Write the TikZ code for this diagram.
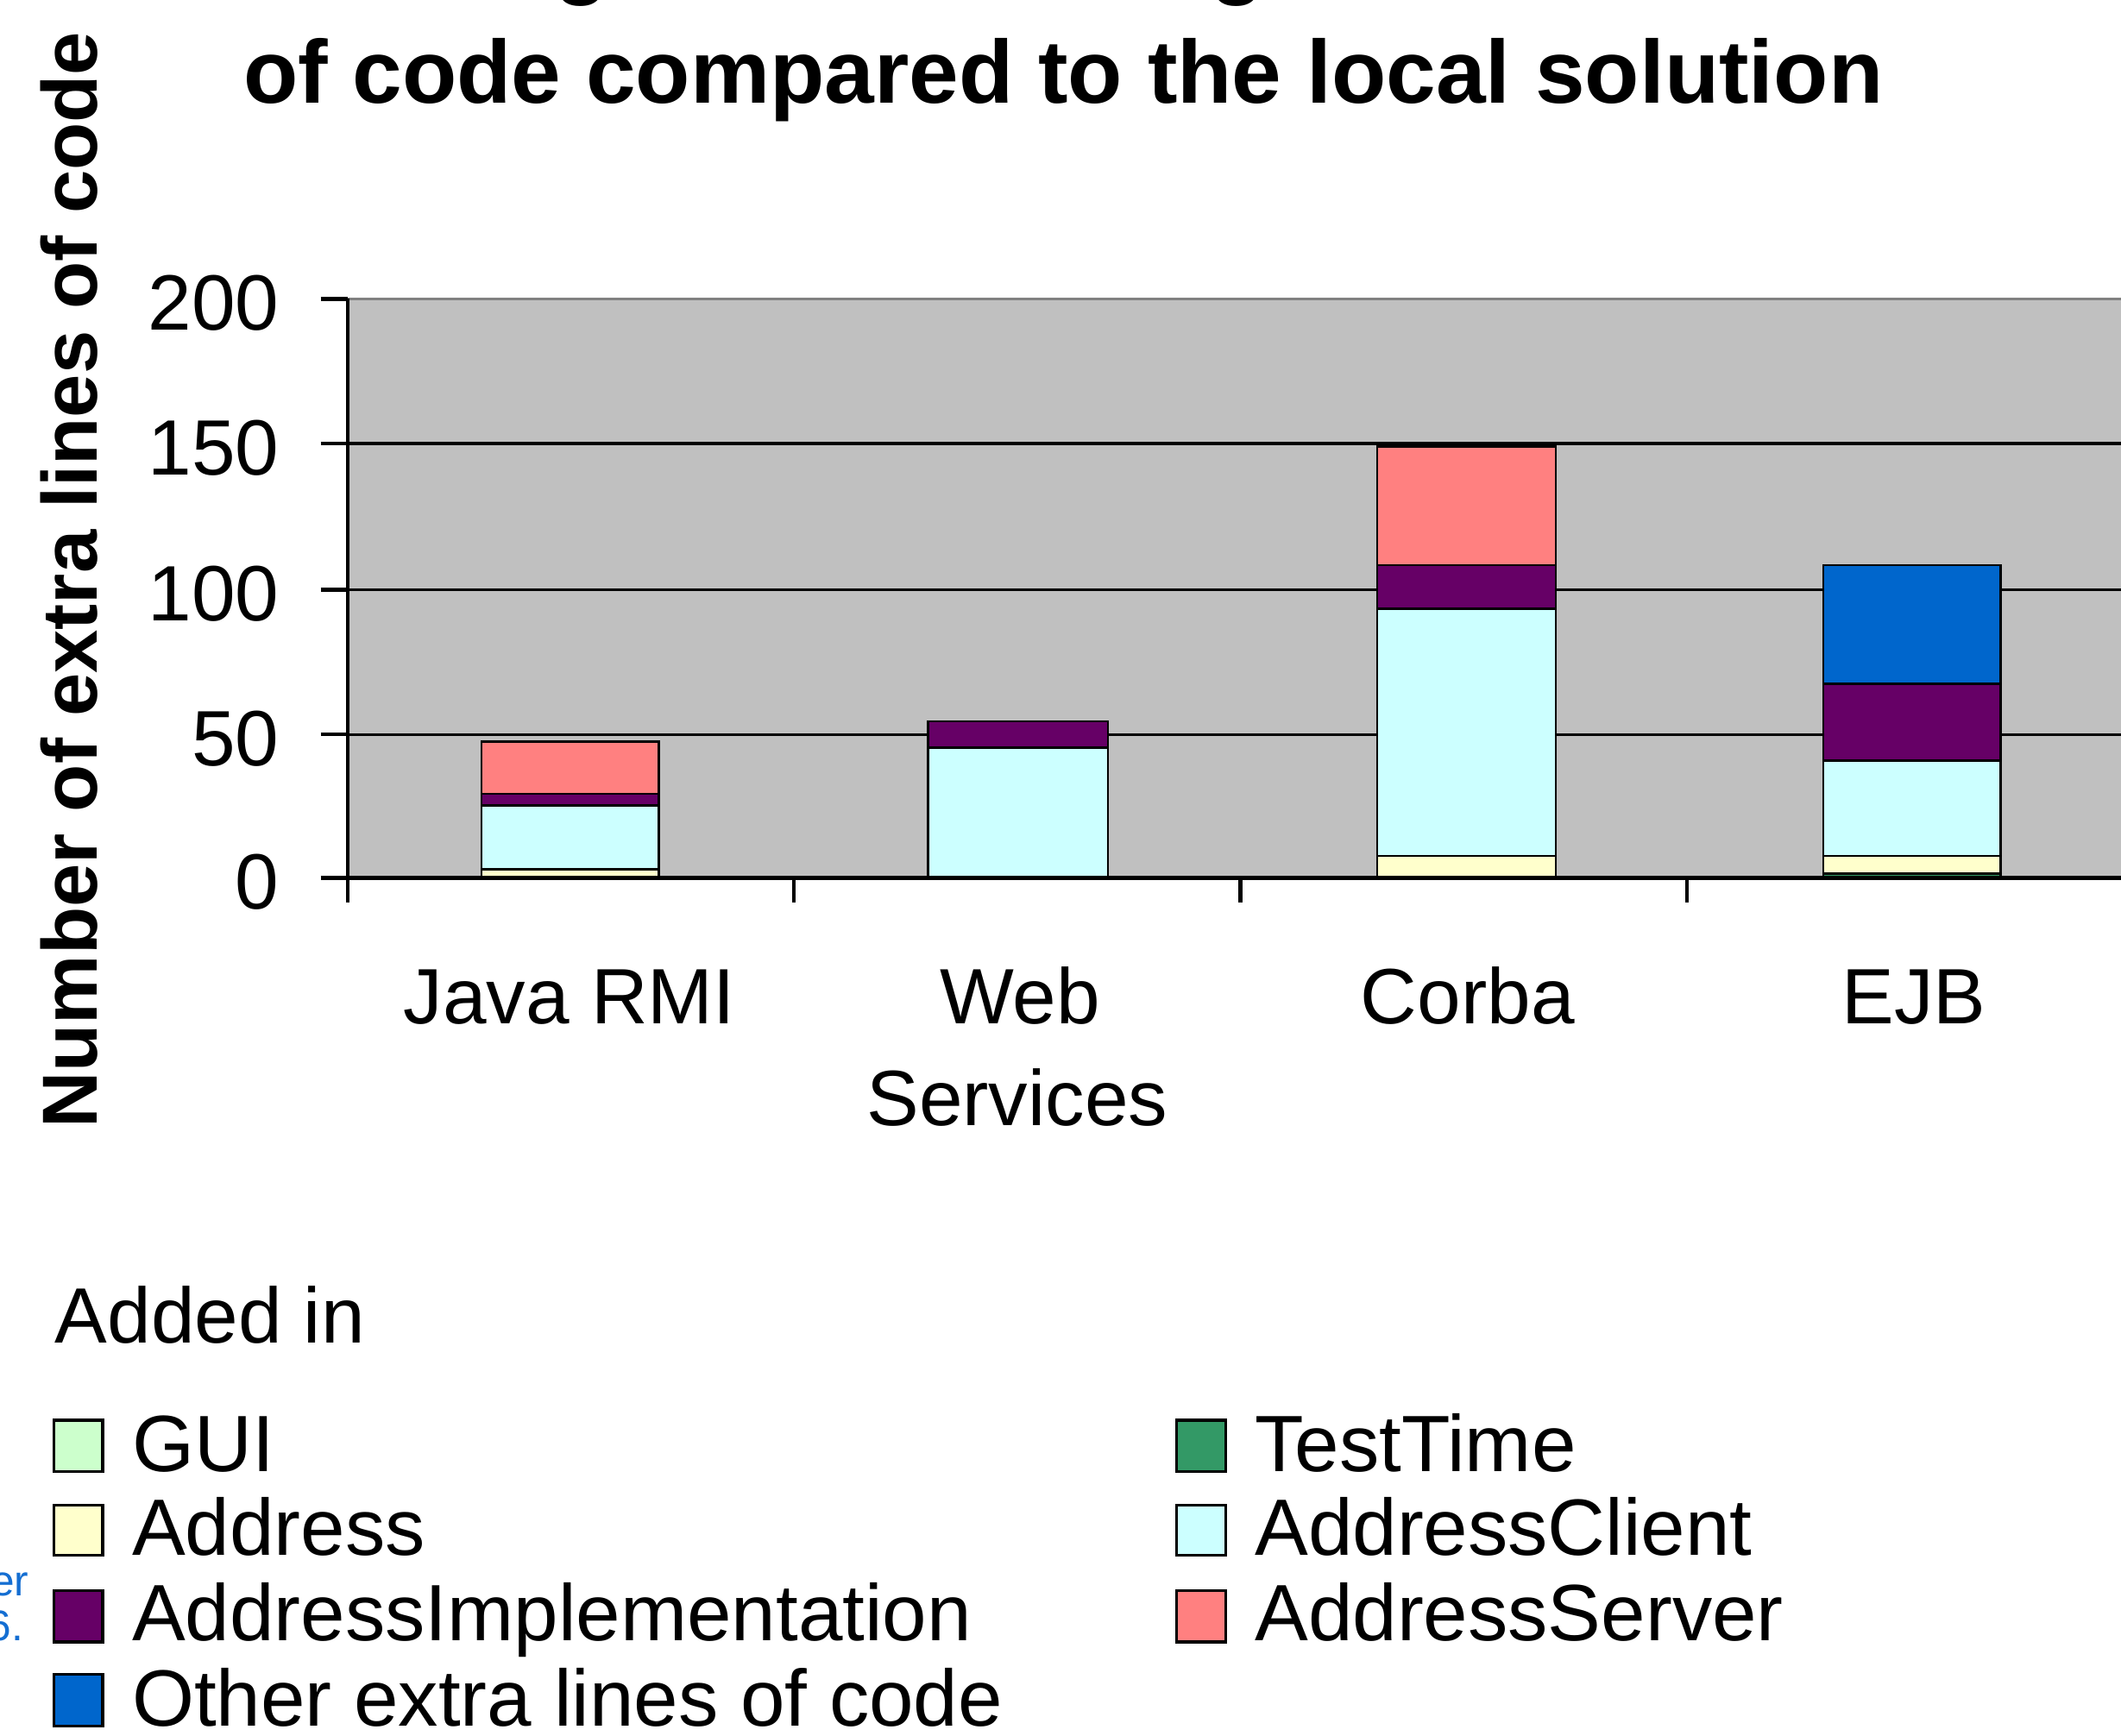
\documentclass[tikz,border=0pt]{standalone}
\usepackage{fontspec}
\setmainfont{Liberation Sans}
\usepackage{tikz}
\usetikzlibrary{positioning}

\definecolor{plotgray}{RGB}{192,192,192}
\definecolor{guigreen}{RGB}{204,255,204}
\definecolor{addryellow}{RGB}{255,255,204}
\definecolor{implpurple}{RGB}{102,0,102}
\definecolor{otherblue}{RGB}{0,102,204}
\definecolor{testgreen}{RGB}{51,153,102}
\definecolor{clientcyan}{RGB}{204,255,255}
\definecolor{serverred}{RGB}{255,128,128}
\definecolor{linkblue}{RGB}{20,110,210}

\newcommand{\labelfont}{\fontsize{16.5}{20}\selectfont}
\newcommand{\legendfont}{\fontsize{16.8}{20}\selectfont}
\newcommand{\titlefont}{\fontsize{18.8}{22}\selectfont\bfseries}

\begin{document}
\begin{tikzpicture}[x=0.01cm, y=-0.01cm,
	lab/.style={inner sep=0, anchor=base, font=\labelfont},
	leg/.style={inner sep=0, anchor=base west, font=\legendfont},
	seg/.style={draw=black, line width=0.45pt},
	swatch/.style={draw=black, line width=0.6pt},
	grid line/.style={line width=0.6pt}]
				\useasboundingbox (0,0) rectangle (1568,1283);
				\clip (0,0) rectangle (1568,1283);

				% title (first line is cut off above)
				\node[inner sep=0, anchor=base, font=\titlefont] (cut1) at (430,-9) {g};
				\node[inner sep=0, anchor=base, font=\titlefont] (cut2) at (915,-9) {g};
				\node[inner sep=0, anchor=base, font=\titlefont] (title) at (786,76) {of code compared to the local solution};

				% y axis label
				\node[inner sep=0, anchor=base west, rotate=90, font=\bfseries\fontsize{16.4}{20}\selectfont] (ylab) at (72,835) {Number of extra lines of code};

				% plot area
				\fill[plotgray] (257,221) rectangle (1580,649);
				\draw[gray, line width=0.4pt] (257,221) -- (1580,221);
				\draw[grid line] (257,328) -- (1580,328); % 150
				\draw[grid line] (257,436) -- (1580,436); % 100
				\draw[grid line] (257,543) -- (1580,543); % 50

				% stacked bars, in data units
				\begin{scope}[shift={(0,649)}, y=0.0214cm]
					% Java RMI
					\filldraw[seg, fill=addryellow] (356,0) rectangle (487,3);
					\filldraw[seg, fill=clientcyan] (356,3) rectangle (487,25);
					\filldraw[seg, fill=implpurple] (356,25) rectangle (487,29);
					\filldraw[seg, fill=serverred] (356,29) rectangle (487,47);
					% Web Services
					\filldraw[seg, fill=clientcyan] (686,0) rectangle (819,45);
					\filldraw[seg, fill=implpurple] (686,45) rectangle (819,54);
					% Corba
					\filldraw[seg, fill=addryellow] (1018,0) rectangle (1150,7.5);
					\filldraw[seg, fill=clientcyan] (1018,7.5) rectangle (1150,93);
					\filldraw[seg, fill=implpurple] (1018,93) rectangle (1150,108);
					\filldraw[seg, fill=serverred] (1018,108) rectangle (1150,149);
					% EJB
					\filldraw[seg, fill=testgreen] (1348,0) rectangle (1479,1.5);
					\filldraw[seg, fill=addryellow] (1348,1.5) rectangle (1479,7.5);
					\filldraw[seg, fill=clientcyan] (1348,7.5) rectangle (1479,40.5);
					\filldraw[seg, fill=implpurple] (1348,40.5) rectangle (1479,67);
					\filldraw[seg, fill=otherblue] (1348,67) rectangle (1479,108);
				\end{scope}

				% axes and ticks
				\draw[line width=0.8pt] (257,221) -- (257,667);
				\draw[line width=0.8pt] (257,649) -- (1580,649);
				\draw[line width=0.8pt] (237,221) -- (257,221);
				\draw[line width=0.8pt] (237,328) -- (257,328);
				\draw[line width=0.8pt] (237,436) -- (257,436);
				\draw[line width=0.8pt] (237,543) -- (257,543);
				\draw[line width=0.8pt] (237,649) -- (257,649);
				\draw[line width=0.8pt] (587,649) -- (587,667);
				\draw[line width=0.8pt] (917,649) -- (917,667);
				\draw[line width=0.8pt] (1247,649) -- (1247,667);

				% tick labels
				\node[lab, anchor=base east] (y200) at (207,244) {200};
				\node[lab, anchor=base east] (y150) at (207,351) {150};
				\node[lab, anchor=base east] (y100) at (207,459) {100};
				\node[lab, anchor=base east] (y50) at (207,566) {50};
				\node[lab, anchor=base east] (y0) at (207,672) {0};

				\node[lab] (rmi) at (421,757) {Java RMI};
				\node[lab] (web) at (754,757) {Web};
				\node[lab] (services) at (752,832) {Services};
				\node[lab] (corba) at (1085,757) {Corba};
				\node[lab] (ejb) at (1415,757) {EJB};

				% legend
				\node[lab, anchor=base west] (added) at (40,993) {Added in};

				\filldraw[swatch, fill=guigreen] (40,1050) rectangle (76,1088);
				\node[leg] (lgui) at (97,1088) {GUI};
				\filldraw[swatch, fill=addryellow] (40,1113) rectangle (76,1150);
				\node[leg] (laddr) at (97,1150) {Address};
				\filldraw[swatch, fill=implpurple] (40,1176) rectangle (76,1214);
				\node[leg] (limpl) at (97,1213) {AddressImplementation};
				\filldraw[swatch, fill=otherblue] (40,1238) rectangle (76,1276);
				\node[leg] (lother) at (97,1276) {Other extra lines of code};

				\filldraw[swatch, fill=testgreen] (870,1050) rectangle (906,1088);
				\node[leg] (ltest) at (927,1088) {TestTime};
				\filldraw[swatch, fill=clientcyan] (870,1113) rectangle (906,1150);
				\node[leg] (lclient) at (927,1150) {AddressClient};
				\filldraw[swatch, fill=serverred] (870,1176) rectangle (906,1214);
				\node[leg] (lserver) at (927,1213) {AddressServer};

				% caption text from the next column, cut off
				\node[inner sep=0, anchor=base east, text=linkblue, font=\fontsize{9}{11}\selectfont] (frag1) at (22,1180) {er};
				\node[inner sep=0, anchor=base east, text=linkblue, font=\fontsize{9}{11}\selectfont] (frag2) at (18,1213) {6.};
\end{tikzpicture}
\end{document}
